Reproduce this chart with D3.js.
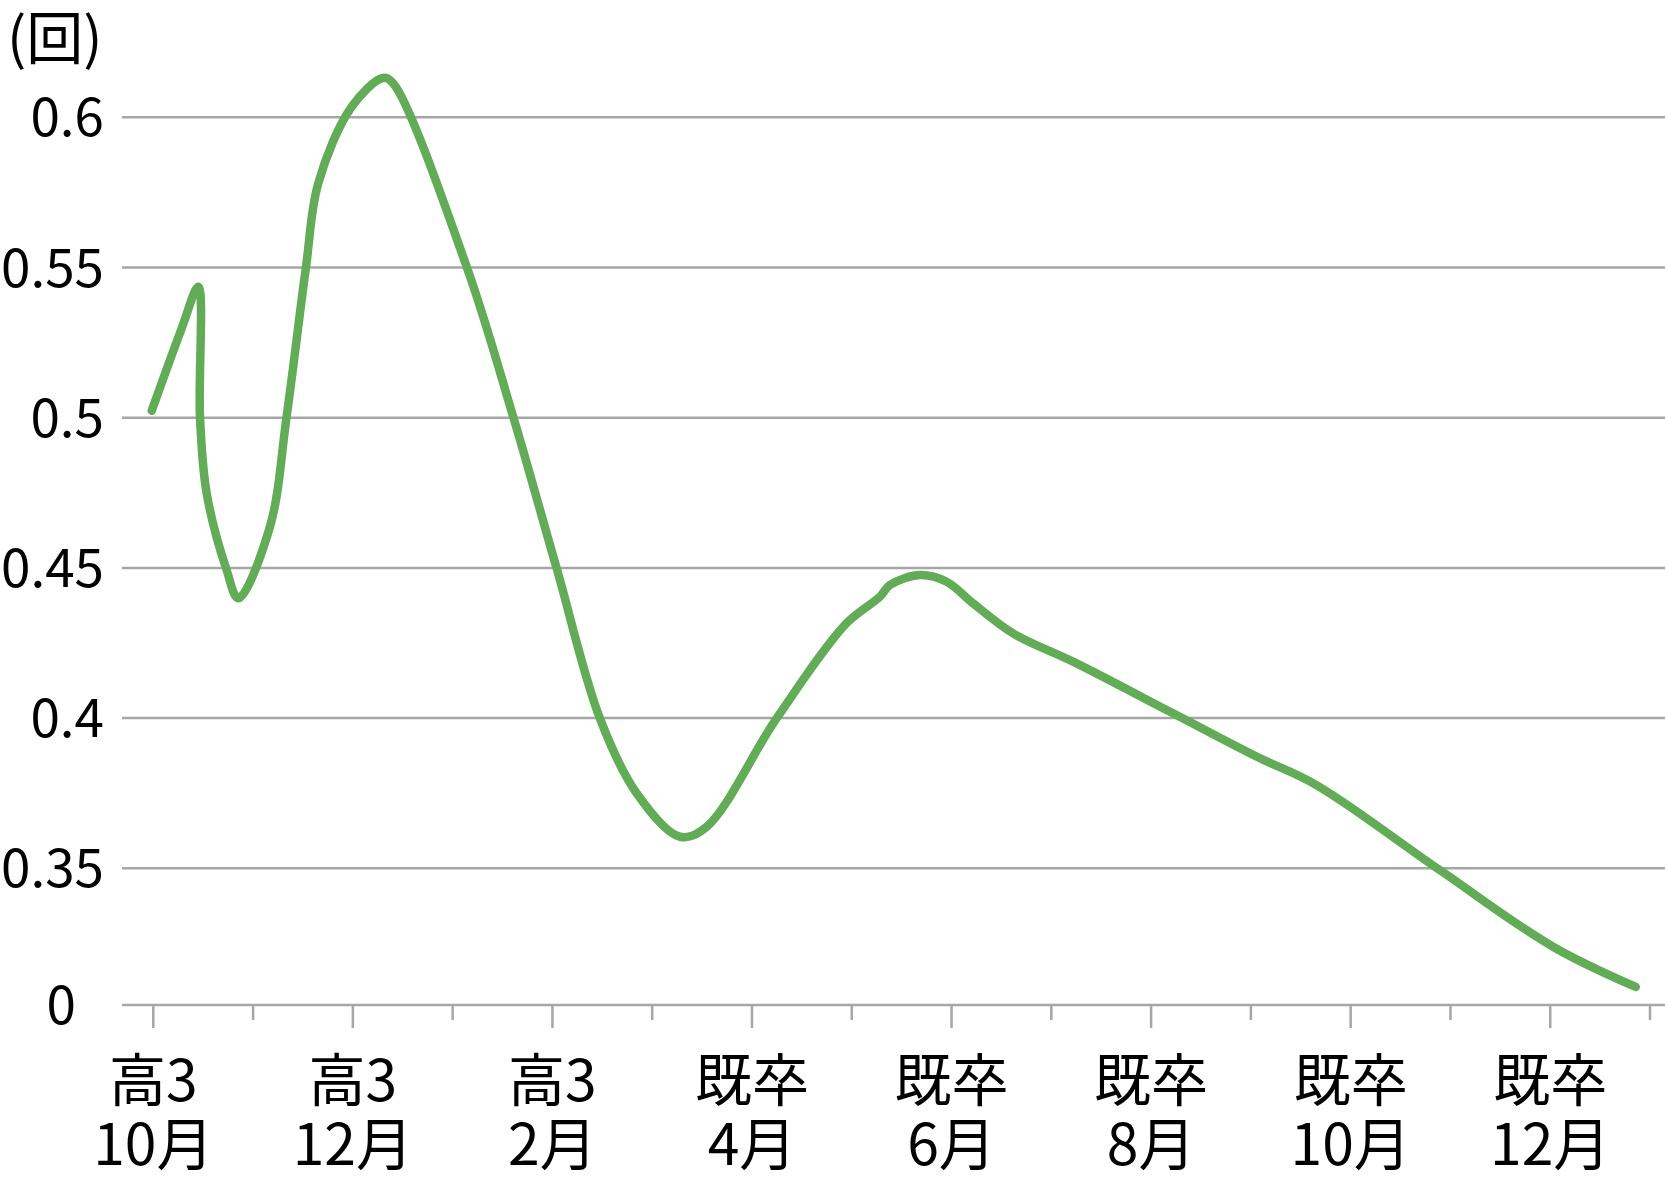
<!DOCTYPE html>
<html>
<head>
<meta charset="utf-8">
<script src="https://cdn.jsdelivr.net/npm/d3@7"></script>
<style>
    html, body { margin: 0; padding: 0; background: #fff; }
    svg { display: block; }
    text { font-family: "Noto Sans CJK JP", "Noto Sans", sans-serif; fill: #000; }
</style>
</head>
<body>
<div id="chart"></div>
<script>
// months since 高3 10月 (x) and value (y) of each point on the line
const months = [-0.016, 0.285, 0.451, 0.468, 0.535, 0.735, 0.852, 1.169, 1.335, 1.530, 1.653, 1.988, 2.302, 2.402,
    3.140, 3.607, 4.042, 4.476, 4.844, 5.278, 5.545, 6.246, 6.948, 7.282, 7.382, 7.683,
    7.950, 8.216, 8.617, 9.218, 10.220, 11.056, 11.657, 12.893, 14.028, 14.857];
const values = [0.5023, 0.5298, 0.5436, 0.5002, 0.4748, 0.4493, 0.4399, 0.4637, 0.5001, 0.5501, 0.5780, 0.6035, 0.6131, 0.6114,
    0.5503, 0.5003, 0.4499, 0.3999, 0.3750, 0.3605, 0.3638, 0.3999, 0.4316, 0.4404, 0.4443, 0.4476,
    0.4454, 0.4382, 0.4282, 0.4188, 0.4016, 0.3872, 0.3777, 0.3494, 0.3239, 0.3105];

const yTicks = [0.35, 0.4, 0.45, 0.5, 0.55, 0.6];
const yTickLabels = ['0.35', '0.4', '0.45', '0.5', '0.55', '0.6'];
const baseLabel = '0';
const unitLabel = '(回)';

const tickMonths = [0, 1, 2, 3, 4, 5, 6, 7, 8, 9, 10, 11, 12, 13, 14, 15];
const labelMonths = [0, 2, 4, 6, 8, 10, 12, 14];
const labelTop = ['高3', '高3', '高3', '既卒', '既卒', '既卒', '既卒', '既卒'];
const labelBottom = ['10月', '12月', '2月', '4月', '6月', '8月', '10月', '12月'];

const W = 1667, H = 1188;
const left = 122, right = 1665;
const baseY = 1005;

const svg = d3.select('#chart').append('svg')
    .attr('width', W)
    .attr('height', H);

const x = d3.scaleLinear().domain([0, 15]).range([153.3, 1650]);
const y = d3.scaleLinear().domain([0.35, 0.6]).range([868.3, 117.3]);

// gridlines
svg.append('g')
    .selectAll('line')
    .data(yTicks)
    .enter()
    .append('line')
    .attr('x1', left)
    .attr('x2', right)
    .attr('y1', d => y(d))
    .attr('y2', d => y(d))
    .attr('stroke', '#a6a6a6')
    .attr('stroke-width', 2.5);

// baseline + ticks
svg.append('line')
    .attr('x1', left).attr('x2', right)
    .attr('y1', baseY).attr('y2', baseY)
    .attr('stroke', '#a6a6a6')
    .attr('stroke-width', 2.5);

svg.append('g')
    .selectAll('line')
    .data(tickMonths)
    .enter()
    .append('line')
    .attr('x1', d => x(d))
    .attr('x2', d => x(d))
    .attr('y1', baseY)
    .attr('y2', d => baseY + (labelMonths.includes(d) ? 23 : 15))
    .attr('stroke', '#a6a6a6')
    .attr('stroke-width', 2.5);

// y labels
svg.append('g')
    .selectAll('text')
    .data(yTicks)
    .enter()
    .append('text')
    .attr('x', 104)
    .attr('y', d => y(d))
    .attr('dy', '0.36em')
    .attr('text-anchor', 'end')
    .style('font-size', '53px')
    .text((d, i) => yTickLabels[i]);

svg.append('text')
    .attr('x', 76)
    .attr('y', baseY)
    .attr('dy', '0.36em')
    .attr('text-anchor', 'end')
    .style('font-size', '53px')
    .text(baseLabel);

svg.append('text')
    .attr('x', 7)
    .attr('y', 59)
    .style('font-size', '57px')
    .text(unitLabel);

// x labels
const xl = svg.append('g')
    .selectAll('g')
    .data(labelMonths)
    .enter()
    .append('g');

xl.append('text')
    .attr('x', d => x(d))
    .attr('y', 1101)
    .attr('text-anchor', 'middle')
    .style('font-size', '57px')
    .text((d, i) => labelTop[i]);

xl.append('text')
    .attr('x', d => x(d))
    .attr('y', 1165)
    .attr('text-anchor', 'middle')
    .style('font-size', '57px')
    .text((d, i) => labelBottom[i]);

// line
const line = d3.line()
    .x(d => x(d[0]))
    .y(d => y(d[1]))
    .curve(d3.curveCatmullRom.alpha(0.5));

svg.append('path')
    .datum(months.map((m, i) => [m, values[i]]))
    .attr('d', line)
    .attr('fill', 'none')
    .attr('stroke', '#62ac57')
    .attr('stroke-width', 8.5)
    .attr('stroke-linecap', 'round')
    .attr('stroke-linejoin', 'round');
</script>
</body>
</html>
